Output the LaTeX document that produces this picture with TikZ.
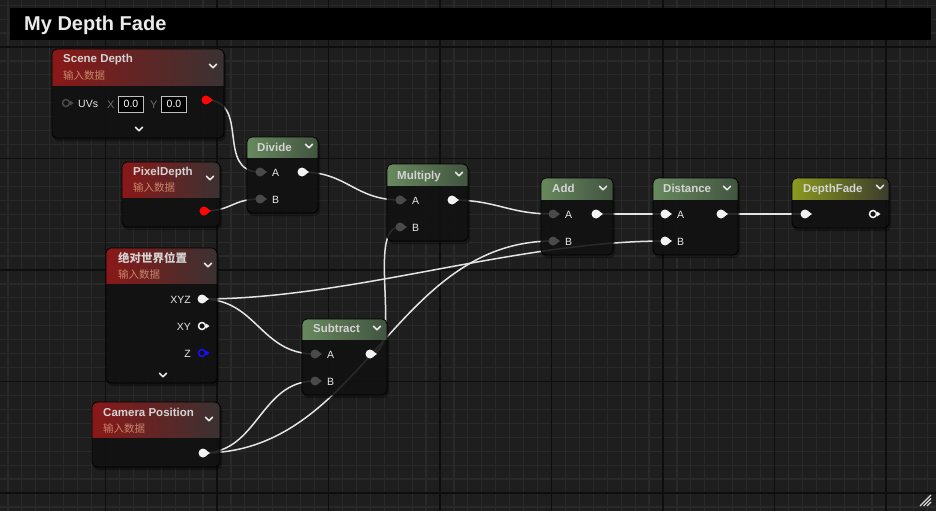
\documentclass[tikz,border=0pt]{standalone}
\usepackage{fontspec}
\setmainfont{Liberation Sans}
\newfontfamily\cjk{Noto Sans CJK SC}
\usetikzlibrary{calc}
\pgfdeclarelayer{gridlayer}
\pgfdeclarelayer{wirelayer}
\pgfsetlayers{gridlayer,wirelayer,main}
\definecolor{bg}{HTML}{1E1E1E}
\definecolor{gridminor}{HTML}{292929}
\definecolor{gridmajor}{HTML}{0E0E0E}
\definecolor{bodyc}{HTML}{121212}
\definecolor{redL}{HTML}{8A1818}
\definecolor{redM}{HTML}{7A1212}
\definecolor{redR}{HTML}{3A3232}
\definecolor{grnL}{HTML}{68895E}
\definecolor{grnR}{HTML}{415440}
\definecolor{ylwL}{HTML}{8C9A1E}
\definecolor{ylwR}{HTML}{3A3B2C}
\definecolor{titletxt}{HTML}{D4D4D4}
\definecolor{subtxt}{HTML}{C8866A}
\definecolor{lbltxt}{HTML}{E8E8E8}
\definecolor{pingray}{HTML}{4A4A4A}
\definecolor{wirec}{HTML}{E4E4E4}
\definecolor{pinred}{HTML}{FF0505}
\definecolor{pinblue}{HTML}{1212FF}
\definecolor{pinwhite}{HTML}{F2F2F2}
\definecolor{xylbl}{HTML}{6E6E6E}
\newcommand\uebox[8]{%
  \fill[black,opacity=0.35,rounded corners=5pt] (#2+1,#3+2) rectangle (#4+2,#5+3);
  \node[nodebody,minimum width={#4-#2},minimum height={#5-#3}] (#1) at ({(#2+#4)/2},{(#3+#5)/2}) {};
  \begin{scope}
    \clip[rounded corners=5pt] (#2,#3) rectangle (#4,#5);
    \shade[left color=#7,right color=#8] (#2,#3) rectangle (#4,#6);
  \end{scope}
  \draw[nodeborder,rounded corners=5pt] (#2,#3) rectangle (#4,#5);
}
\newcommand\uehdr[9]{%
  \fill[black,opacity=0.35,rounded corners=5pt] (#2+1,#3+2) rectangle (#4+2,#5+3);
  \node[nodebody,minimum width={#4-#2},minimum height={#5-#3}] (#1) at ({(#2+#4)/2},{(#3+#5)/2}) {};
  \begin{scope}
    \clip[rounded corners=5pt] (#2,#3) rectangle (#4,#5);
    \shade[left color=#7,middle color=#9,right color=#8] (#2,#3) rectangle (#4,#6);
  \end{scope}
  \draw[nodeborder,rounded corners=5pt] (#2,#3) rectangle (#4,#5);
}
\newcommand\pinF[4]{%
  \node[uepin,fill=#4] (#1) at (#2,#3) {};
  \fill[#4] (#2+3,#3-2.8) -- (#2+7,#3) -- (#2+3,#3+2.8) -- cycle;}
\newcommand\pinH[4]{%
  \node[uepin,draw=#4,fill=bodyc,line width=1.5pt,minimum size=7pt] (#1) at (#2,#3) {};
  \fill[#4] (#2+4,#3-2.5) -- (#2+7.5,#3) -- (#2+4,#3+2.5) -- cycle;}
\newcommand\chev[2]{\draw[chevron] (#1-3.6,#2-1.8) -- (#1,#2+1.8) -- (#1+3.6,#2-1.8);}
\begin{document}
\begin{tikzpicture}[x=1pt,y=-1pt,
  nodebody/.style={rectangle,rounded corners=5pt,fill=bodyc,fill opacity=0.82,inner sep=0,outer sep=0},
  nodeborder/.style={draw=black,line width=0.8pt},
  uepin/.style={circle,inner sep=0,outer sep=0,minimum size=9pt},
  chevron/.style={draw=lbltxt,line width=1.5pt,line cap=round,line join=round},
  ttl/.style={anchor=base west,inner sep=0,text=titletxt,font=\bfseries\fontsize{11.5}{13}\selectfont},
  subt/.style={anchor=base west,inner sep=0,text=subtxt,font=\cjk\fontsize{10.5}{12}\selectfont},
  lbl/.style={anchor=base west,inner sep=0,text=lbltxt,font=\fontsize{10.5}{12}\selectfont},
  lblr/.style={anchor=base east,inner sep=0,text=lbltxt,font=\fontsize{10.5}{12}\selectfont},
  wirestyle/.style={draw=wirec,line width=1.5pt},
  gminor/.style={draw=gridminor,line width=1.2pt},
  gmajor/.style={draw=gridmajor,line width=1.6pt}]
\useasboundingbox (0,0) rectangle (936,511);
% ---------- background grid ----------
\begin{pgfonlayer}{gridlayer}
\fill[bg] (0,0) rectangle (936,511);
\begin{scope}
\clip (0,0) rectangle (936,511);
\foreach \k in {0,...,67} \draw[gminor] ({7.94+\k*13.9375},0) -- ({7.94+\k*13.9375},511);
\foreach \k in {0,...,36} \draw[gminor] (0,{5.19+\k*13.9375}) -- (936,{5.19+\k*13.9375});
\foreach \k in {0,...,7} \draw[gmajor] ({105.5+\k*111.5},0) -- ({105.5+\k*111.5},511);
\foreach \k in {0,...,4} \draw[gmajor] (0,{47+\k*111.5}) -- (936,{47+\k*111.5});
\end{scope}
\end{pgfonlayer}
% ---------- title bar ----------
\fill[black] (10,8) rectangle (931,40);
\node[anchor=base west,inner sep=0,text=white!92!black,font=\bfseries\fontsize{20}{24}\selectfont] (title) at (24,31) {My Depth Fade};
% ---------- Scene Depth ----------
\uehdr{sd}{52}{49}{224}{138}{85}{redL}{redR}{redM}
\node[ttl] (sdt) at (63,63) {Scene Depth};
\node[subt] (sds) at (63,79) {输入数据};
\chev{213}{66}
\pinH{sduv}{66}{103}{pingray}
\node[lbl] (sduvl) at (78,107) {UVs};
\node[anchor=base west,inner sep=0,text=xylbl,font=\fontsize{11}{12}\selectfont] (sdx) at (107,108) {X};
\node[draw=white!75!black,line width=0.8pt,fill=black,inner sep=0,minimum width=25pt,minimum height=16pt,text=white,font=\fontsize{10.5}{12}\selectfont] (sdxv) at (131,104) {0.0};
\node[anchor=base west,inner sep=0,text=xylbl,font=\fontsize{11}{12}\selectfont] (sdy) at (150,108) {Y};
\node[draw=white!75!black,line width=0.8pt,fill=black,inner sep=0,minimum width=25pt,minimum height=16pt,text=white,font=\fontsize{10.5}{12}\selectfont] (sdyv) at (174,104) {0.0};
\pinF{sdout}{206}{100}{pinred}
\chev{139}{129}
% ---------- PixelDepth ----------
\uehdr{pd}{122}{162}{220}{227}{197}{redL}{redR}{redM}
\node[ttl] (pdt) at (133,175) {PixelDepth};
\node[subt] (pds) at (133,191) {输入数据};
\chev{210}{178}
\pinF{pdout}{204}{211}{pinred}
% ---------- Divide ----------
\uebox{dv}{247}{137}{318}{213}{157}{grnL}{grnR}
\node[ttl] (dvt) at (257,151) {Divide};
\chev{309}{146}
\pinF{dva}{260}{172}{pingray}
\pinF{dvb}{260}{199}{pingray}
\node[lbl] (dval) at (272,176) {A};
\node[lbl] (dvbl) at (272,203) {B};
\pinF{dvout}{302}{172}{pinwhite}
% ---------- Multiply ----------
\uebox{mu}{387}{164}{468}{241}{185}{grnL}{grnR}
\node[ttl] (mut) at (397,179) {Multiply};
\chev{459}{174}
\pinF{mua}{400}{200}{pingray}
\pinF{mub}{400}{227}{pingray}
\node[lbl] (mual) at (412,204) {A};
\node[lbl] (mubl) at (412,231) {B};
\pinF{muout}{452}{200}{pinwhite}
% ---------- Subtract ----------
\uebox{su}{302}{319}{387}{395}{339}{grnL}{grnR}
\node[ttl] (sut) at (313,332) {Subtract};
\chev{377}{328}
\pinF{sua}{315}{354}{pingray}
\pinF{sub}{315}{381}{pingray}
\node[lbl] (sual) at (327,358) {A};
\node[lbl] (subl) at (327,385) {B};
\pinF{suout}{370}{354}{pinwhite}
% ---------- Add ----------
\uebox{ad}{541}{178}{613}{255}{199}{grnL}{grnR}
\node[ttl] (adt) at (552,192) {Add};
\chev{603}{188}
\pinF{ada}{553}{214}{pingray}
\pinF{adb}{553}{241}{pingray}
\node[lbl] (adal) at (565,218) {A};
\node[lbl] (adbl) at (565,245) {B};
\pinF{adout}{596}{214}{pinwhite}
% ---------- Distance ----------
\uebox{di}{653}{178}{738}{255}{199}{grnL}{grnR}
\node[ttl] (dit) at (663,192) {Distance};
\chev{727}{188}
\pinF{dia}{665}{214}{pinwhite}
\pinF{dib}{665}{241}{pinwhite}
\node[lbl] (dial) at (677,218) {A};
\node[lbl] (dibl) at (677,245) {B};
\pinF{diout}{721}{214}{pinwhite}
% ---------- DepthFade ----------
\uebox{df}{792}{178}{889}{228}{199}{ylwL}{ylwR}
\node[ttl] (dft) at (803,192) {DepthFade};
\chev{880}{187}
\pinF{dfin}{805}{214}{pinwhite}
\pinH{dfout}{873}{214}{pinwhite}
% ---------- Absolute world position ----------
\uehdr{wp}{106}{248}{217}{383}{283}{redL}{redR}{redM}
\node[anchor=base west,inner sep=0,text=titletxt,font=\cjk\bfseries\fontsize{11.5}{13}\selectfont] (wpt) at (118,262) {绝对世界位置};
\node[subt] (wps) at (118,278) {输入数据};
\chev{208}{265}
\node[lblr] (wpxyzl) at (191,303) {XYZ};
\node[lblr] (wpxyl) at (191,330) {XY};
\node[lblr] (wpzl) at (191,357) {Z};
\pinF{wpxyz}{202}{299}{pinwhite}
\pinH{wpxy}{202}{326}{pinwhite}
\pinH{wpz}{202}{353}{pinblue}
\chev{163}{375}
% ---------- Camera Position ----------
\uehdr{cp}{92}{402}{220}{467}{437}{redL}{redR}{redM}
\node[ttl] (cpt) at (103,416) {Camera Position};
\node[subt] (cps) at (103,432) {输入数据};
\chev{209}{419}
\pinF{cpout}{203}{453}{pinwhite}
% ---------- wires ----------
\begin{pgfonlayer}{wirelayer}
\draw[wirestyle] (sdout.center) .. controls +(45,0) and +(-45,0) .. (dva.center);
\draw[wirestyle] (pdout.center) .. controls +(28,0) and +(-28,0) .. (dvb.center);
\draw[wirestyle] (dvout.center) .. controls +(45,0) and +(-45,0) .. (mua.center);
\draw[wirestyle] (muout.center) .. controls +(45,0) and +(-45,0) .. (ada.center);
\draw[wirestyle] (adout.center) -- (dia.center);
\draw[wirestyle] (diout.center) -- (dfin.center);
\draw[wirestyle] (wpxyz.center) .. controls +(150,0) and +(-150,0) .. (dib.center);
\draw[wirestyle] (wpxyz.center) .. controls +(55,0) and +(-55,0) .. (sua.center);
\draw[wirestyle] (cpout.center) .. controls +(55,0) and +(-55,0) .. (sub.center);
\draw[wirestyle] (cpout.center) .. controls +(160,0) and +(-160,0) .. (adb.center);
\draw[wirestyle] (suout.center) .. controls +(35,0) and +(-35,0) .. (mub.center);
\end{pgfonlayer}
% ---------- resize grip ----------
\coordinate (grip) at (931,506);
\draw[white!85!black,line width=1.1pt] (920,506) -- (931,495);
\draw[white!85!black,line width=1.1pt] (923.5,506) -- (931,498.5);
\draw[white!85!black,line width=1.1pt] (927,506) -- (931,502);
\end{tikzpicture}
\end{document}
